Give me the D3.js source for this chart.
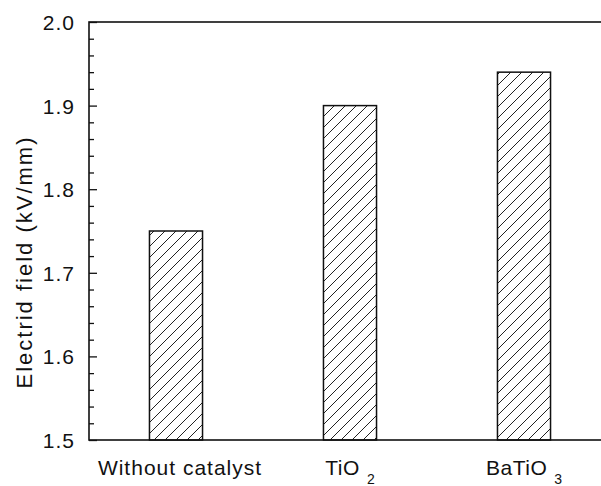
<!DOCTYPE html>
<html>
<head>
<meta charset="utf-8">
<script src="https://cdn.jsdelivr.net/npm/d3@7"></script>
<style>
  body { margin: 0; background: #fff; }
  svg { display: block; }
  text { font-family: "Liberation Sans", Arial, sans-serif; fill: #111; }
</style>
</head>
<body>
<div id="chart"></div>
<script>
// bar chart data
var categories = ["Without catalyst", "TiO", "BaTiO"];
var subscripts = ["", "2", "3"];
var values = [1.75, 1.90, 1.94];
var majorTicks = [1.5, 1.6, 1.7, 1.8, 1.9, 2.0];
var yLabel = "Electrid field (kV/mm)";

var w = 601;
var h = 486;
var plot = { left: 89, right: 611, top: 22, bottom: 440 };

var svg = d3.select("#chart")
  .append("svg")
  .attr("width", w)
  .attr("height", h);

// hatch pattern for bars
var defs = svg.append("defs");
defs.append("pattern")
  .attr("id", "hatch")
  .attr("patternUnits", "userSpaceOnUse")
  .attr("width", 11)
  .attr("height", 11)
  .append("path")
  .attr("d", "M-1,1 l2,-2 M0,11 l11,-11 M10,12 l2,-2")
  .attr("stroke", "#222")
  .attr("stroke-width", 1);

var xScale = d3.scaleBand()
  .domain(categories)
  .range([plot.left, plot.right])
  .padding(0);

var yScale = d3.scaleLinear()
  .domain([1.5, 2.0])
  .range([plot.bottom, plot.top]);

var barW = xScale.bandwidth() * 0.305;

// bars
svg.selectAll("rect.bar")
  .data(values)
  .enter()
  .append("rect")
  .attr("class", "bar")
  .attr("x", function(d, i) { return xScale(categories[i]) + xScale.bandwidth() / 2 - barW / 2; })
  .attr("y", function(d) { return yScale(d); })
  .attr("width", barW)
  .attr("height", function(d) { return plot.bottom - yScale(d); })
  .attr("fill", "url(#hatch)")
  .attr("stroke", "#111")
  .attr("stroke-width", 1.5);

// frame
svg.append("rect")
  .attr("x", plot.left)
  .attr("y", plot.top)
  .attr("width", plot.right - plot.left)
  .attr("height", plot.bottom - plot.top)
  .attr("fill", "none")
  .attr("stroke", "#111")
  .attr("stroke-width", 1.6);

// y axis, ticks pointing inward
var minorTicks = d3.range(1.5, 2.0001, 0.02).filter(function(v) {
  return Math.abs(v * 10 - Math.round(v * 10)) > 1e-6;
});

var yMinor = svg.append("g")
  .attr("transform", "translate(" + plot.left + ",0)")
  .call(d3.axisLeft(yScale).tickValues(minorTicks).tickSize(-5).tickFormat(""));

var yAxis = svg.append("g")
  .attr("transform", "translate(" + plot.left + ",0)")
  .call(d3.axisLeft(yScale).tickValues(majorTicks).tickSize(-8).tickPadding(14).tickFormat(d3.format(".1f")));

svg.selectAll(".domain").remove();
svg.selectAll(".tick line").attr("stroke", "#111").attr("stroke-width", 1.3);
yAxis.selectAll("text")
  .style("font-family", "'Liberation Sans', Arial, sans-serif")
  .style("font-size", "21px")
  .attr("letter-spacing", "1px")
  .attr("fill", "#111")
  .attr("dy", "0.36em");

// x category labels with subscripts
var xl = svg.selectAll("text.xlab")
  .data(categories)
  .enter()
  .append("text")
  .attr("class", "xlab")
  .attr("x", function(d, i) { return xScale(d) + xScale.bandwidth() / 2 + (i == 0 ? 4 : 0); })
  .attr("y", 475)
  .attr("text-anchor", "middle")
  .style("font-size", "21px");

xl.append("tspan").text(function(d) { return d; })
  .attr("letter-spacing", function(d, i) { return i == 0 ? "1px" : "0.5px"; });
xl.append("tspan")
  .text(function(d, i) { return subscripts[i]; })
  .attr("dx", 7)
  .attr("dy", 9)
  .style("font-size", "14px");

// y axis title
svg.append("text")
  .attr("transform", "translate(32," + 262 + ") rotate(-90)")
  .attr("text-anchor", "middle")
  .attr("letter-spacing", "2px")
  .style("font-size", "22px")
  .text(yLabel);
</script>
</body>
</html>
